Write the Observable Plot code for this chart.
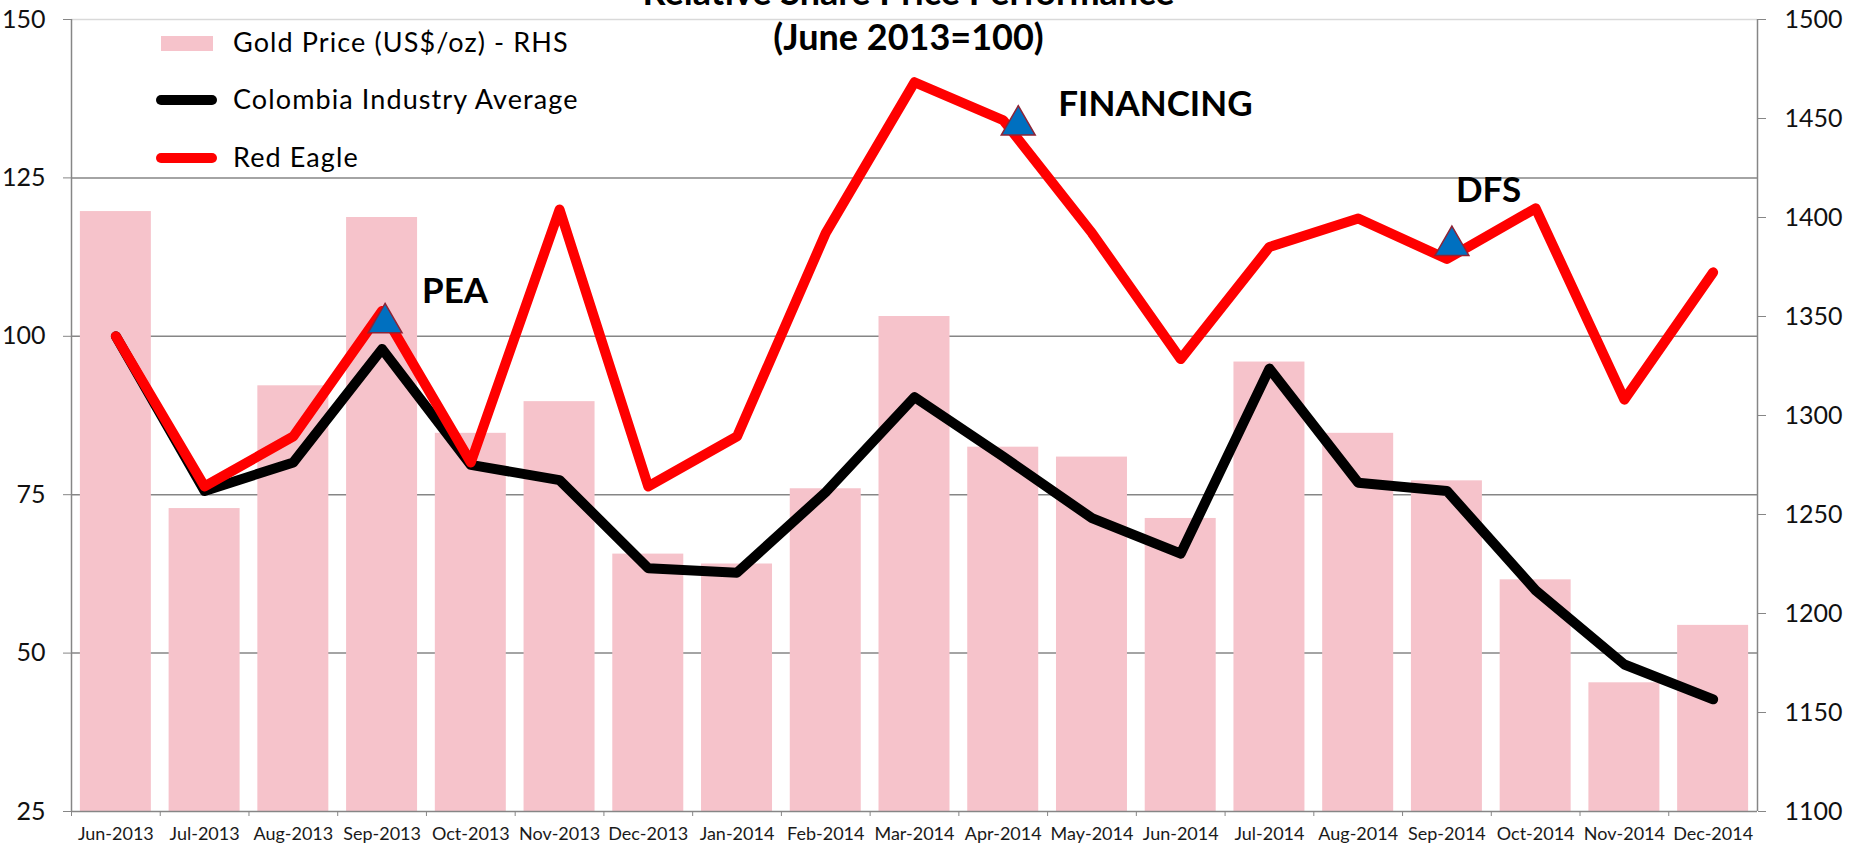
<!DOCTYPE html>
<html>
<head>
<meta charset="utf-8">
<script src="https://cdn.jsdelivr.net/npm/d3@7"></script>
<script src="https://cdn.jsdelivr.net/npm/@observablehq/plot@0.6"></script>
<style>
  html, body { margin: 0; padding: 0; background: #fff; overflow: hidden; }
  #wrap { position: relative; width: 1858px; height: 843px; font-family: Lato, "Open Sans", sans-serif; }
  #legend { position: absolute; left: 0; top: 0; }
  .item { position: absolute; left: 233px; font-size: 27px; letter-spacing: 1.1px; line-height: 30px; color: #000; white-space: nowrap; }
  .sw { position: absolute; }
</style>
</head>
<body>
<div id="wrap">
  <div id="chart"></div>
  <div id="legend"></div>
</div>
<script>
// ---- data ----
const months = ["Jun-2013","Jul-2013","Aug-2013","Sep-2013","Oct-2013","Nov-2013","Dec-2013",
  "Jan-2014","Feb-2014","Mar-2014","Apr-2014","May-2014","Jun-2014","Jul-2014","Aug-2014",
  "Sep-2014","Oct-2014","Nov-2014","Dec-2014"];
const goldPrice = [1403,1253,1315,1400,1291,1307,1230,1225,1263,1350,1284,1279,1248,1327,1291,1267,1217,1165,1194];
const colombiaAvg = [100,75.6,80.1,98,79.7,77.3,63.4,62.7,75.4,90.4,81,71.3,65.7,94.9,76.9,75.6,59.9,48.2,42.7];
const redEagle = [100,76.3,84.2,104,80.1,120,76.3,84.2,116.3,140.1,134.1,116.3,96.4,114.1,118.6,112.2,120.2,90,110.1];
const leftTicks = [25,50,75,100,125,150];
const rightTicks = [1100,1150,1200,1250,1300,1350,1400,1450,1500];
const eventMonths = ["Sep-2013","Apr-2014","Sep-2014"];
const eventValues = [102.1,133.3,114.3];
const eventLabels = ["PEA","FINANCING","DFS"];
const titleLines = ["Relative Share Price Performance","(June 2013=100)"];
const legendLabels = ["Gold Price (US$/oz) - RHS","Colombia Industry Average","Red Eagle"];

// ---- build tables ----
const rows = months.map((m,i) => ({month: m, gold: goldPrice[i], col: colombiaAvg[i], red: redEagle[i]}));
const events = eventMonths.map((m,i) => ({month: m, value: eventValues[i], label: eventLabels[i]}));
const goldToLeft = d3.scaleLinear([1100,1500],[25,150]);

const W = 1858, H = 843, mL = 71, mR = 101, mT = 19, mB = 32;
const step = (W - mL - mR) / months.length;
const grey = "#868686";
const triFill = "#0070C0", triStroke = "#8E2436";
const triangle = (e, dx) => Plot.dot([e], {x: "month", y: "value", symbol: "triangle", r: 12.6,
  fill: triFill, stroke: triStroke, strokeWidth: 1.5, dx, ariaLabel: "event-marker"});
const eventText = (e, dx, dy) => Plot.text([e], {x: "month", y: "value", text: "label", textAnchor: "start",
  lineAnchor: "middle", dx, dy, fontSize: 35, fontWeight: "bold", fill: "#000", ariaLabel: "event-label"});

const chart = Plot.plot({
  width: W, height: H,
  marginLeft: mL, marginRight: mR, marginTop: mT, marginBottom: mB,
  style: {fontFamily: "Lato, 'Open Sans', sans-serif", background: "white"},
  x: {type: "band", domain: months, paddingInner: 0.2, paddingOuter: 0.1, round: false, label: null},
  y: {domain: [25,150], label: null},
  marks: [
    Plot.ruleY([50,75,100,125], {stroke: grey, strokeWidth: 1.5}),
    Plot.ruleY([150], {stroke: "#d9d9d9", strokeWidth: 1.5}),
    Plot.barY(rows, {x: "month", y1: 25, y2: d => goldToLeft(d.gold), fill: "#F6C3CB"}),
    Plot.ruleY([25], {stroke: grey, strokeWidth: 1.5}),
    Plot.ruleX([months[0]], {y1: 25, y2: 150, dx: -step/2, stroke: grey, strokeWidth: 1.5}),
    Plot.ruleX([months[months.length-1]], {y1: 25, y2: 150, dx: step/2, stroke: grey, strokeWidth: 1.5}),
    // left axis
    Plot.axisY(leftTicks, {anchor: "left", tickSize: 8, tickFormat: () => "", color: grey}),
    Plot.axisY(leftTicks, {anchor: "left", tickSize: 0, tickPadding: 26, fontSize: 25, color: "#111", ariaLabel: "ylabels"}),
    // right axis
    Plot.axisY(rightTicks.map(goldToLeft), {anchor: "right", tickSize: 8, tickFormat: () => "", color: grey}),
    Plot.axisY(rightTicks.map(goldToLeft), {anchor: "right", tickSize: 0, tickPadding: 27, fontSize: 25, color: "#111",
      ariaLabel: "ylabels", tickFormat: d => String(Math.round(goldToLeft.invert(d)))}),
    // x axis
    Plot.axisX({tickSize: 5, tickFormat: () => "", dx: -step/2, color: grey}),
    Plot.axisX({tickSize: 0, tickPadding: 16, fontSize: 18, color: "#1a1a1a", ariaLabel: "xlabels"}),
    // lines
    Plot.line(rows, {x: "month", y: "col", stroke: "#000", strokeWidth: 10, strokeLinejoin: "round", strokeLinecap: "round"}),
    Plot.line(rows, {x: "month", y: "red", stroke: "#FF0000", strokeWidth: 10, strokeLinejoin: "round", strokeLinecap: "round"}),
    // event markers
    triangle(events[0], 3),
    triangle(events[1], 15),
    triangle(events[2], 5),
    eventText(events[0], 40, -31),
    eventText(events[1], 55, -20.5),
    eventText(events[2], 9, -55),
    // title
    Plot.text([titleLines[0]], {frameAnchor: "top", lineAnchor: "middle", text: d => d, dx: -6, dy: -26, fontSize: 36, fontWeight: "bold", fill: "#000", ariaLabel: "title"}),
    Plot.text([titleLines[1]], {frameAnchor: "top", lineAnchor: "middle", text: d => d, dx: -6, dy: 19, fontSize: 36, fontWeight: "bold", fill: "#000", ariaLabel: "title"})
  ]
});
chart.querySelectorAll('g[aria-label="event-marker"]').forEach(g => g.style.filter = "drop-shadow(2px 3px 2px rgba(0,0,0,0.35))");
chart.querySelectorAll('g[aria-label="title"] text, g[aria-label="event-label"] text').forEach(t => t.style.letterSpacing = "1px");
chart.querySelectorAll('g[aria-label="xlabels"] text').forEach(t => t.style.letterSpacing = "0.4px");
chart.querySelectorAll('g[aria-label="ylabels"] text').forEach(t => t.style.letterSpacing = "0.5px");
document.getElementById("chart").appendChild(chart);

// ---- legend ----
const legend = document.getElementById("legend");
const centers = [43, 100, 158];
const swatches = [
  {left: 161, width: 52, height: 15, color: "#F6C3CB", radius: 0},
  {left: 156, width: 61, height: 10, color: "#000", radius: 5},
  {left: 156, width: 61, height: 10, color: "#FF0000", radius: 5}
];
legendLabels.forEach((lab, i) => {
  const s = swatches[i];
  const sw = document.createElement("div");
  sw.className = "sw";
  Object.assign(sw.style, {left: s.left + "px", top: (centers[i] - s.height/2) + "px", width: s.width + "px",
    height: s.height + "px", background: s.color, borderRadius: s.radius + "px"});
  legend.appendChild(sw);
  const t = document.createElement("div");
  t.className = "item";
  t.style.top = (centers[i] - 16.3) + "px";
  t.textContent = lab;
  legend.appendChild(t);
});
</script>
</body>
</html>
